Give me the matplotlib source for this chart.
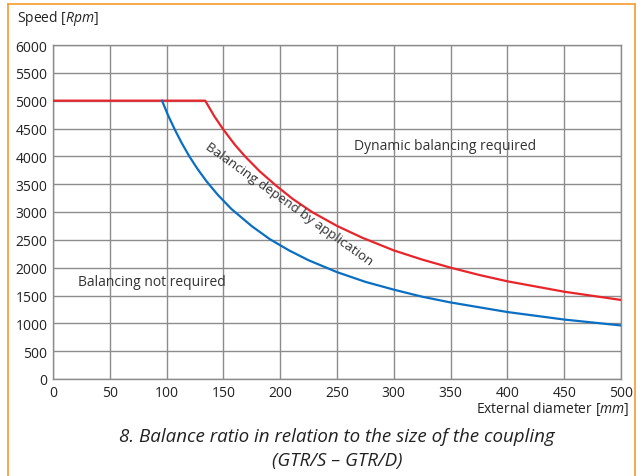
import matplotlib
matplotlib.use("Agg")
import matplotlib.pyplot as plt
from matplotlib.lines import Line2D

plt.rcParams['font.family'] = ['Open Sans', 'DejaVu Sans']
plt.rcParams['mathtext.fontset'] = 'custom'
plt.rcParams['mathtext.rm'] = 'Open Sans'
plt.rcParams['mathtext.it'] = 'Open Sans:italic'

# Data
red_x = [0, 134, 142, 150, 160, 169, 182, 196, 211, 228, 250, 272, 300, 325, 350, 375, 400, 450, 500]
red_y = [5000, 5000, 4720, 4480, 4210, 4000, 3730, 3480, 3235, 3000, 2750, 2540, 2310, 2145, 2000, 1870, 1755, 1568, 1420]
blue_x = [96, 101, 107, 113, 120, 127, 135, 145, 157, 175, 191, 208, 225, 250, 275, 300, 325, 350, 400, 450, 500]
blue_y = [5000, 4750, 4490, 4250, 4000, 3780, 3555, 3310, 3055, 2745, 2510, 2308, 2133, 1920, 1745, 1605, 1478, 1375, 1203, 1068, 962]
x_ticks = list(range(0, 501, 50))
y_ticks = list(range(0, 6001, 500))

fig = plt.figure(figsize=(6.42, 4.77), dpi=100)
ax = fig.add_axes([53/642, 1-380/477, 568/642, 334/477])

ax.plot(red_x, red_y, color='#e8252b', lw=1.6, zorder=3, solid_joinstyle='round')
ax.plot(blue_x, blue_y, color='#0a6fc2', lw=1.6, zorder=3, solid_joinstyle='round')

ax.set_xlim(0, 500)
ax.set_ylim(0, 6000)
ax.set_xticks(x_ticks)
ax.set_yticks(y_ticks)
ax.grid(True, color='#8c8c8c', lw=1.0)
ax.set_axisbelow(True)
for s in ax.spines.values():
    s.set_color('#8c8c8c')
    s.set_linewidth(1.0)
ax.tick_params(length=0, labelsize=10, colors='#222222', pad=4)

ax.text(22, 1750, 'Balancing not required', fontsize=10, color='#333333', va='center')
ax.text(345, 4200, 'Dynamic balancing required', fontsize=10, color='#333333', ha='center', va='center')
ax.text(208, 3160, 'Balancing depend by application', fontsize=9.6, color='#333333',
        ha='center', va='center', rotation=-35.5, rotation_mode='anchor')

fig.text(17/642, 1-18/477, r'Speed $\mathit{[Rpm]}$', fontsize=10, color='#222222', va='center', ha='left')
fig.text(629/642, 1-409/477, r'External diameter $\mathit{[mm]}$', fontsize=10, color='#222222', va='center', ha='right')
fig.text(337/642, 1-437/477, '8. Balance ratio in relation to the size of the coupling',
         fontsize=13.5, style='italic', color='#222222', ha='center', va='center')
fig.text(337/642, 1-461/477, '(GTR/S \u2013 GTR/D)',
         fontsize=13.5, style='italic', color='#222222', ha='center', va='center')

oc = '#f5a23c'
fig.add_artist(Line2D([8/642, 8/642], [0, 1-5/477], color=oc, lw=1.3, transform=fig.transFigure))
fig.add_artist(Line2D([8/642, 635/642], [1-5/477, 1-5/477], color=oc, lw=1.3, transform=fig.transFigure))
fig.add_artist(Line2D([635/642, 635/642], [0, 1-5/477], color=oc, lw=1.3, transform=fig.transFigure))

fig.savefig('out.png', dpi=100)
